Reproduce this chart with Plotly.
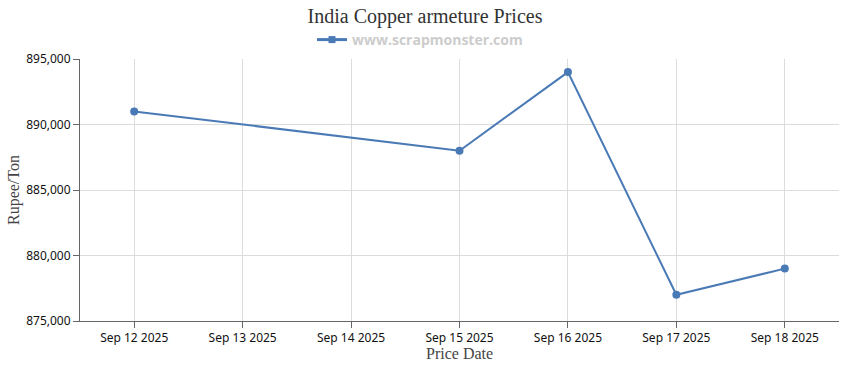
import plotly.graph_objects as go

dates = ["2025-09-12", "2025-09-15", "2025-09-16", "2025-09-17", "2025-09-18"]
prices = [891000, 888000, 894000, 877000, 879000]
tick_dates = ["2025-09-12", "2025-09-13", "2025-09-14", "2025-09-15", "2025-09-16", "2025-09-17", "2025-09-18"]
tick_labels = ["Sep 12 2025", "Sep 13 2025", "Sep 14 2025", "Sep 15 2025", "Sep 16 2025", "Sep 17 2025", "Sep 18 2025"]
y_ticks = [875000, 880000, 885000, 890000, 895000]
series_name = "www.scrapmonster.com"
x_title = "Price Date"
y_title = "Rupee/Ton"

W, H = 850, 370
L, R, T, B = 80, 11, 59, 49
PW, PH = W - L - R, H - T - B

color = "#4a7ab5"
fig = go.Figure()
fig.add_trace(go.Scatter(
    x=dates, y=prices, mode="lines+markers", name=series_name, showlegend=False,
    line=dict(color=color, width=2), marker=dict(color=color, size=8, symbol="circle"),
))
fig.add_trace(go.Scatter(
    x=[None], y=[None], mode="lines+markers", name=series_name, showlegend=True,
    line=dict(color=color, width=3), marker=dict(color=color, size=7, symbol="square"),
))
serif = "Liberation Serif, serif"
fig.update_layout(
    width=W, height=H,
    margin=dict(l=L, r=R, t=T, b=B, autoexpand=False),
    plot_bgcolor="white", paper_bgcolor="white",
    title=dict(text="India Copper armeture Prices", x=0.5, xref="container", xanchor="center",
               y=1 - 16 / H, yref="container", yanchor="middle",
               font=dict(family=serif, size=20, color="#333")),
    showlegend=True,
    legend=dict(orientation="h", x=420 / W, xref="container", xanchor="center",
                y=1 - 40 / H, yref="container", yanchor="middle",
                font=dict(family="Open Sans, sans-serif", size=14, color="#cccccc", weight="bold"),
                itemwidth=30, bgcolor="rgba(0,0,0,0)"),
    xaxis=dict(
        type="date", range=["2025-09-11 12:00", "2025-09-18 12:00"],
        tickvals=tick_dates, ticktext=tick_labels, automargin=False,
        showgrid=True, gridcolor="#dcdcdc", gridwidth=1,
        showline=True, linecolor="#666", linewidth=1,
        ticks="outside", ticklen=6, tickcolor="#666",
        tickfont=dict(family="Noto Sans, sans-serif", size=12, color="#111"),
        zeroline=False,
    ),
    yaxis=dict(
        range=[875000, 895000], tickvals=y_ticks, tickformat=",d", automargin=False,
        showgrid=True, gridcolor="#dcdcdc", gridwidth=1,
        showline=True, linecolor="#666", linewidth=1,
        ticks="outside", ticklen=6, tickcolor="#666",
        tickfont=dict(family="Noto Sans, sans-serif", size=12, color="#111"),
        zeroline=False,
    ),
    annotations=[
        dict(text=x_title, xref="paper", yref="paper", x=0.5, y=-(353 - (H - B)) / PH,
             xanchor="center", yanchor="middle", showarrow=False,
             font=dict(family=serif, size=16, color="#444")),
        dict(text=y_title, xref="paper", yref="paper", x=(14 - L) / PW, y=0.5, textangle=-90,
             xanchor="center", yanchor="middle", showarrow=False,
             font=dict(family=serif, size=16, color="#444")),
    ],
)
fig.write_html("out.html", config={"displayModeBar": False},
               post_script="document.body.style.margin='0';")
